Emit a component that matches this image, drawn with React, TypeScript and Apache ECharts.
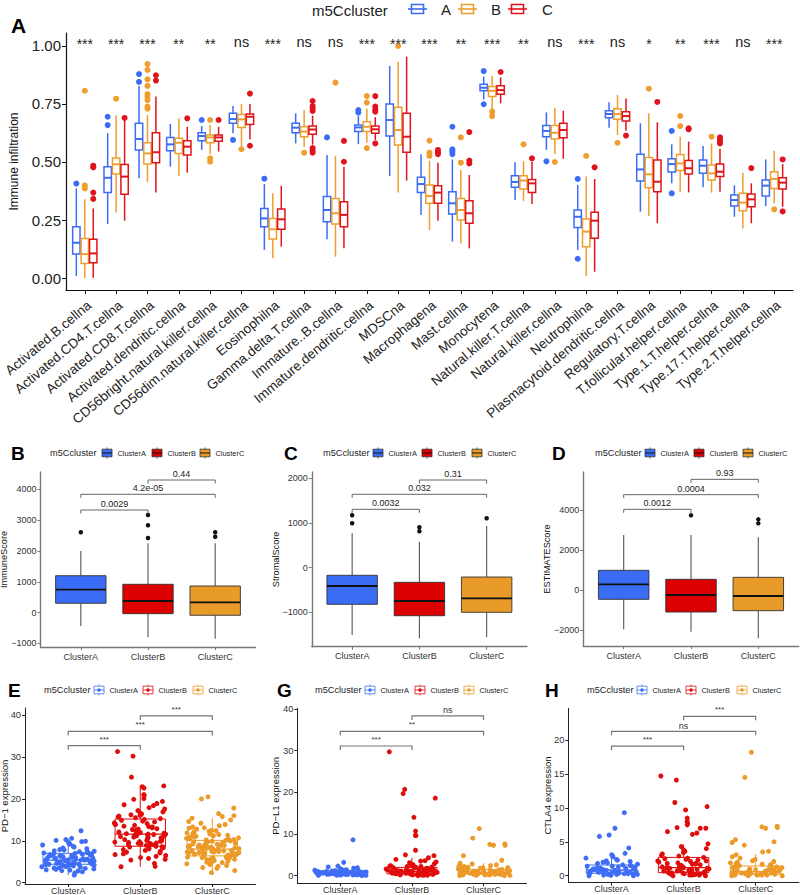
import React, { useEffect, useRef } from 'react';
import * as echarts from 'echarts';

const FONT = '"Liberation Sans", Arial, Helvetica, sans-serif';

// ---------------- Panel A data ----------------
const CELL_TYPES = [
  'Activated.B.cellna', 'Activated.CD4.T.cellna', 'Activated.CD8.T.cellna', 'Activated.dendritic.cellna',
  'CD56bright.natural.killer.cellna', 'CD56dim.natural.killer.cellna', 'Eosinophilna', 'Gamma.delta.T.cellna',
  'Immature..B.cellna', 'Immature.dendritic.cellna', 'MDSCna', 'Macrophagena', 'Mast.cellna', 'Monocytena',
  'Natural.killer.T.cellna', 'Natural.killer.cellna', 'Neutrophilna', 'Plasmacytoid.dendritic.cellna',
  'Regulatory.T.cellna', 'T.follicular.helper.cellna', 'Type.1.T.helper.cellna', 'Type.17.T.helper.cellna',
  'Type.2.T.helper.cellna',
];
const SIGNIF = ['***', '***', '***', '**', '**', 'ns', '***', 'ns', 'ns', '***', '***', '***', '**', '***', '**', 'ns', '***', 'ns', '*', '**', '***', 'ns', '***'];

// [lower whisker, Q1, median, Q3, upper whisker]
const STATS_A = [
  [0.009, 0.103, 0.152, 0.221, 0.386], [0.233, 0.368, 0.432, 0.48, 0.624], [0.43, 0.552, 0.599, 0.667, 0.828],
  [0.48, 0.549, 0.576, 0.606, 0.664], [0.552, 0.592, 0.612, 0.626, 0.655], [0.624, 0.667, 0.685, 0.71, 0.741],
  [0.121, 0.221, 0.257, 0.30, 0.405], [0.58, 0.626, 0.648, 0.667, 0.71], [0.167, 0.243, 0.293, 0.351, 0.53],
  [0.578, 0.631, 0.649, 0.66, 0.698], [0.44, 0.612, 0.681, 0.75, 0.914], [0.272, 0.368, 0.405, 0.434, 0.533],
  [0.157, 0.276, 0.322, 0.372, 0.511], [0.77, 0.807, 0.82, 0.835, 0.868], [0.336, 0.391, 0.414, 0.441, 0.499],
  [0.552, 0.609, 0.634, 0.657, 0.714], [0.121, 0.218, 0.264, 0.293, 0.401], [0.648, 0.691, 0.707, 0.721, 0.757],
  [0.286, 0.418, 0.468, 0.533, 0.667], [0.408, 0.457, 0.491, 0.514, 0.576], [0.391, 0.451, 0.484, 0.509, 0.569],
  [0.264, 0.31, 0.336, 0.358, 0.399], [0.31, 0.353, 0.398, 0.422, 0.511],
];
const OUT_A = [
  [0.407], [0.659, 0.695], [0.845, 0.879], [], [0.681], [0.595], [0.428], [], [0.606], [0.713, 0.724], [], [],
  [0.534, 0.545, 0.555, 0.652], [0.749, 0.892], [], [0.503], [0.083, 0.427], [], [], [0.365, 0.634], [], [], [],
];
const STATS_B = [
  [0.0, 0.063, 0.103, 0.170, 0.339], [0.282, 0.448, 0.49, 0.517, 0.701], [0.415, 0.491, 0.537, 0.583, 0.703],
  [0.441, 0.537, 0.583, 0.602, 0.687], [0.534, 0.583, 0.606, 0.616, 0.66], [0.566, 0.649, 0.684, 0.705, 0.75],
  [0.085, 0.168, 0.21, 0.257, 0.365], [0.566, 0.609, 0.631, 0.652, 0.724], [0.092, 0.233, 0.279, 0.343, 0.527],
  [0.583, 0.631, 0.652, 0.674, 0.731], [0.368, 0.573, 0.638, 0.736, 0.932], [0.207, 0.322, 0.353, 0.401, 0.506],
  [0.149, 0.25, 0.293, 0.343, 0.466], [0.724, 0.782, 0.807, 0.825, 0.871], [0.332, 0.384, 0.42, 0.441, 0.504],
  [0.534, 0.599, 0.626, 0.657, 0.734], [0.009, 0.135, 0.2, 0.254, 0.437], [0.616, 0.684, 0.707, 0.73, 0.789],
  [0.267, 0.389, 0.447, 0.519, 0.71], [0.371, 0.463, 0.494, 0.532, 0.609], [0.368, 0.422, 0.451, 0.487, 0.58],
  [0.213, 0.29, 0.325, 0.365, 0.454], [0.322, 0.386, 0.427, 0.458, 0.549],
];
const OUT_B = [
  [0.386, 0.399, 0.807], [0.773], [0.730, 0.739, 0.767, 0.782, 0.793, 0.828, 0.856, 0.897, 0.922], [],
  [0.501, 0.516, 0.681], [0.555], [], [0.54], [0.842], [0.56, 0.756, 0.784], [1.0], [0.526, 0.54, 0.592],
  [0.497, 0.606], [0.698, 0.717], [0.576], [0.5], [0.526], [0.583], [0.816], [0.655, 0.698], [0.609], [], [0.296],
];
const STATS_C = [
  [0.001, 0.066, 0.106, 0.167, 0.300], [0.247, 0.361, 0.437, 0.489, 0.681], [0.368, 0.497, 0.542, 0.626, 0.782],
  [0.454, 0.53, 0.566, 0.592, 0.652], [0.545, 0.589, 0.606, 0.616, 0.652], [0.598, 0.662, 0.695, 0.707, 0.75],
  [0.135, 0.21, 0.253, 0.297, 0.397], [0.575, 0.62, 0.64, 0.655, 0.70], [0.128, 0.221, 0.272, 0.329, 0.48],
  [0.595, 0.624, 0.641, 0.655, 0.693], [0.42, 0.542, 0.609, 0.71, 0.954], [0.247, 0.322, 0.368, 0.398, 0.497],
  [0.128, 0.236, 0.279, 0.333, 0.444], [0.753, 0.792, 0.81, 0.829, 0.865], [0.319, 0.369, 0.408, 0.425, 0.501],
  [0.514, 0.605, 0.638, 0.667, 0.721], [0.027, 0.171, 0.247, 0.283, 0.427], [0.635, 0.677, 0.698, 0.717, 0.774],
  [0.236, 0.372, 0.415, 0.509, 0.671], [0.369, 0.448, 0.473, 0.506, 0.588], [0.372, 0.437, 0.458, 0.491, 0.557],
  [0.236, 0.307, 0.339, 0.362, 0.408], [0.307, 0.384, 0.411, 0.432, 0.491],
];
const OUT_C = [
  [0.341, 0.368, 0.477, 0.484], [0.690], [0.851, 0.874], [0.688], [0.681], [0.57, 0.795], [],
  [0.54, 0.55, 0.56, 0.72, 0.731, 0.741, 0.763], [0.501, 0.591], [0.58, 0.717, 0.727, 0.739, 0.784], [],
  [0.534, 0.54, 0.552], [0.494, 0.506, 0.629], [0.888], [0.516], [], [0.477], [0.614], [0.759], [0.641, 0.645],
  [0.58, 0.588, 0.598, 0.606], [0.474], [0.287, 0.511],
];

// ---------------- Panels B-D data ----------------
const CLUSTERS = ['ClusterA', 'ClusterB', 'ClusterC'];
const IMMUNE_STATS = [[-432, 305, 747, 1201, 2003], [-799, -32, 380, 922, 2253], [-844, -84, 338, 867, 2253]];
const IMMUNE_OUT = [[2610], [2425, 2838, 3172], [2468, 2610]];
const STROMAL_STATS = [[-1506, -819, -409, -170, 770], [-1580, -1074, -745, -327, 582], [-1557, -998, -685, -208, 933]];
const STROMAL_OUT = [[993, 1172], [814, 904], [1105]];
const ESTIMATE_STATS = [[-1967, -467, 283, 983, 2750], [-2083, -1100, -250, 533, 2750], [-2417, -1033, -300, 633, 2633]];
const ESTIMATE_OUT = [[], [3733], [3333, 3533]];
// [from, to, y, label]
const IMMUNE_P = [[0, 1, 3334, '0.0029'], [0, 2, 3844, '4.2e-05'], [1, 2, 4308, '0.44']];
const STROMAL_P = [[0, 1, 1306, '0.0032'], [0, 2, 1642, '0.032'], [1, 2, 1962, '0.31']];
const ESTIMATE_P = [[0, 1, 4033, '0.0012'], [0, 2, 4767, '0.0004'], [1, 2, 5533, '0.93']];

// ---------------- Panels E, G, H data ----------------
const PD1_STATS = [[1.8, 4.4, 5.4, 7.0, 10.6], [3.8, 8.7, 11.6, 15.2, 23.1], [2.4, 6.4, 8.0, 10.1, 15.4]];
const PD1_A = [12.4, 10.6, 10.3, 10.1, 9.9, 9.8, 9.6, 9.4, 9.2, 9.0, 8.7, 8.5, 8.3, 8.1, 7.9, 7.8, 7.6, 7.5, 7.4, 7.3, 7.2, 7.1, 7.0, 6.9, 6.9, 6.8, 6.7, 6.6, 6.5, 6.4, 6.4, 6.3, 6.2, 6.1, 6.0, 6.0, 5.9, 5.8, 5.8, 5.7, 5.6, 5.6, 5.5, 5.5, 5.4, 5.4, 5.3, 5.3, 5.2, 5.2, 5.1, 5.0, 5.0, 4.9, 4.9, 4.8, 4.8, 4.7, 4.7, 4.6, 4.6, 4.5, 4.5, 4.4, 4.4, 4.3, 4.2, 4.2, 4.1, 4.0, 3.9, 3.9, 3.8, 3.7, 3.6, 3.5, 3.4, 3.3, 3.2, 3.1, 3.0, 2.9, 2.8, 2.6, 2.3, 1.8];
const PD1_B = [31.3, 30.2, 25.2, 23.1, 22.9, 22.6, 21.0, 20.9, 20.1, 19.9, 19.4, 18.9, 18.6, 18.4, 17.9, 17.6, 17.2, 16.9, 16.6, 16.4, 16.1, 15.9, 15.7, 15.5, 15.3, 15.1, 14.9, 14.7, 14.5, 14.3, 14.1, 13.9, 13.7, 13.5, 13.3, 13.1, 12.9, 12.8, 12.6, 12.4, 12.3, 12.1, 12.0, 11.9, 11.8, 11.7, 11.6, 11.6, 11.5, 11.4, 11.3, 11.2, 11.0, 10.9, 10.8, 10.6, 10.5, 10.3, 10.2, 10.0, 9.9, 9.8, 9.6, 9.5, 9.4, 9.3, 9.2, 9.1, 9.0, 8.9, 8.8, 8.7, 8.6, 8.5, 8.3, 8.1, 7.9, 7.7, 7.5, 7.3, 7.1, 6.9, 6.7, 6.5, 6.3, 6.0, 5.8, 5.6, 5.4, 4.6, 3.9, 3.8, 13.4, 12.2, 10.1, 9.7, 9.4, 8.4, 11.1, 14.0, 16.2, 12.7, 10.7];
const PD1_C = [20.5, 20.0, 17.8, 16.5, 16.0, 15.8, 15.4, 15.0, 14.6, 14.2, 13.9, 13.6, 13.3, 13.0, 12.8, 12.5, 12.3, 12.1, 11.9, 11.7, 11.5, 11.3, 11.1, 11.0, 10.8, 10.7, 10.5, 10.4, 10.2, 10.1, 10.0, 9.9, 9.8, 9.6, 9.5, 9.4, 9.3, 9.2, 9.1, 9.0, 8.9, 8.8, 8.7, 8.6, 8.5, 8.4, 8.3, 8.2, 8.1, 8.0, 8.0, 7.9, 7.8, 7.7, 7.6, 7.5, 7.4, 7.3, 7.2, 7.1, 7.0, 6.9, 6.8, 6.7, 6.6, 6.5, 6.4, 6.3, 6.2, 6.1, 6.0, 5.9, 5.8, 5.6, 5.5, 5.3, 5.1, 4.9, 4.7, 4.5, 4.3, 4.1, 3.9, 3.6, 3.4, 2.9, 2.4, 11.6, 10.9, 10.3, 9.7, 9.2, 8.9, 8.6, 8.3, 8.1, 7.9, 7.7, 7.5, 7.3, 7.0, 6.8, 6.6, 6.3, 6.0, 5.7, 12.4, 13.1, 9.0, 8.5, 7.2, 6.9, 10.6, 11.2, 5.2, 4.8];
const PDL1_STATS = [[0, 0.4, 0.7, 1.2, 2.3], [0, 0.45, 1.0, 2.0, 4.3], [0, 0.4, 0.8, 1.5, 3.0]];
const PDL1_A = [8.6, 3.2, 2.3, 2.1, 1.9, 1.8, 1.6, 1.5, 1.4, 1.3, 1.3, 1.2, 1.2, 1.1, 1.1, 1.0, 1.0, 0.9, 0.9, 0.9, 0.8, 0.8, 0.8, 0.7, 0.7, 0.7, 0.7, 0.6, 0.6, 0.6, 0.6, 0.5, 0.5, 0.5, 0.5, 0.4, 0.4, 0.4, 0.4, 0.3, 0.3, 0.3, 0.3, 0.2, 0.2, 0.2, 0.1, 0.1, 0.1, 0.0, 0.9, 0.7, 0.5, 1.0, 0.6, 0.4, 0.8, 1.4, 0.3, 0.2];
const PDL1_B = [29.7, 20.7, 19.7, 18.6, 14.0, 10.7, 9.7, 9.6, 6.1, 5.0, 4.8, 4.3, 3.9, 3.6, 3.5, 3.3, 3.1, 2.9, 2.7, 2.6, 2.5, 2.4, 2.3, 2.2, 2.1, 2.0, 1.9, 1.8, 1.7, 1.6, 1.5, 1.5, 1.4, 1.3, 1.3, 1.2, 1.2, 1.1, 1.1, 1.0, 1.0, 1.0, 0.9, 0.9, 0.9, 0.8, 0.8, 0.8, 0.7, 0.7, 0.7, 0.6, 0.6, 0.6, 0.5, 0.5, 0.5, 0.5, 0.4, 0.4, 0.4, 0.3, 0.3, 0.3, 0.2, 0.2, 0.2, 0.1, 0.1, 0.0, 2.2, 1.8, 1.4, 1.1, 0.9, 0.7, 0.5, 0.3, 1.6, 1.2];
const PDL1_C = [11.3, 9.0, 7.6, 7.5, 7.3, 7.3, 4.8, 3.7, 3.0, 2.8, 2.6, 2.4, 2.2, 2.1, 2.0, 1.9, 1.8, 1.7, 1.6, 1.5, 1.4, 1.4, 1.3, 1.3, 1.2, 1.2, 1.1, 1.1, 1.0, 1.0, 1.0, 0.9, 0.9, 0.9, 0.8, 0.8, 0.8, 0.8, 0.7, 0.7, 0.7, 0.6, 0.6, 0.6, 0.6, 0.5, 0.5, 0.5, 0.5, 0.4, 0.4, 0.4, 0.3, 0.3, 0.3, 0.2, 0.2, 0.2, 0.1, 0.1, 0.0, 0.0, 1.9, 1.5, 1.2, 0.9, 0.7, 0.5, 0.3, 2.3, 1.1, 0.8];
const CTLA4_STATS = [[0, 0.35, 0.84, 1.58, 3.3], [0, 0.45, 1.18, 2.7, 4.6], [0, 0.25, 0.6, 1.43, 3.2]];
const CTLA4_A = [9.3, 7.0, 6.0, 5.8, 4.1, 3.3, 3.1, 2.9, 2.8, 2.6, 2.4, 2.3, 2.2, 2.1, 2.0, 1.9, 1.8, 1.7, 1.6, 1.5, 1.5, 1.4, 1.3, 1.2, 1.2, 1.1, 1.0, 1.0, 0.9, 0.9, 0.8, 0.8, 0.8, 0.7, 0.7, 0.6, 0.6, 0.6, 0.5, 0.5, 0.5, 0.4, 0.4, 0.4, 0.3, 0.3, 0.3, 0.2, 0.2, 0.2, 0.1, 0.1, 0.1, 0.0, 0.0, 1.1, 0.7, 0.4, 0.2, 1.4];
const CTLA4_B = [14.7, 14.1, 10.8, 10.2, 9.7, 8.5, 8.0, 7.7, 7.5, 7.1, 7.0, 7.0, 6.5, 6.3, 6.1, 4.7, 4.3, 4.0, 3.8, 3.6, 3.4, 3.2, 3.0, 2.9, 2.7, 2.6, 2.5, 2.4, 2.3, 2.2, 2.1, 2.0, 1.9, 1.8, 1.8, 1.7, 1.6, 1.5, 1.5, 1.4, 1.3, 1.3, 1.2, 1.2, 1.1, 1.1, 1.0, 1.0, 0.9, 0.9, 0.8, 0.8, 0.7, 0.7, 0.7, 0.6, 0.6, 0.5, 0.5, 0.5, 0.4, 0.4, 0.4, 0.3, 0.3, 0.3, 0.2, 0.2, 0.2, 0.1, 0.1, 0.1, 0.0, 0.0, 2.2, 1.7, 1.2, 0.8, 0.5, 0.3];
const CTLA4_C = [18.2, 14.5, 7.3, 7.2, 7.1, 7.0, 5.3, 5.0, 4.9, 4.5, 3.6, 3.5, 3.1, 2.8, 2.6, 2.4, 2.2, 2.0, 1.9, 1.8, 1.7, 1.6, 1.5, 1.4, 1.3, 1.2, 1.2, 1.1, 1.0, 1.0, 0.9, 0.9, 0.8, 0.8, 0.7, 0.7, 0.6, 0.6, 0.6, 0.5, 0.5, 0.5, 0.4, 0.4, 0.4, 0.4, 0.3, 0.3, 0.3, 0.3, 0.2, 0.2, 0.2, 0.2, 0.1, 0.1, 0.1, 0.1, 0.0, 0.0, 0.0, 1.3, 0.9, 0.6, 0.4, 0.2, 2.1, 1.6];
const PD1_P = [[0, 1, 32.7, '***'], [0, 2, 36.1, '***'], [1, 2, 39.8, '***']];
const PDL1_P = [[0, 1, 31.1, '***'], [0, 2, 34.6, '**'], [1, 2, 38.3, 'ns']];
const CTLA4_P = [[0, 1, 19.1, '***'], [0, 2, 21.3, 'ns'], [1, 2, 23.5, '***']];

// ---------------- styling ----------------
const A_COLORS = ['#3B6CF5', '#EE9E2E', '#E0141C'];
const CL_FILL = ['#3B6CF6', '#DC0000', '#E99B2A'];
const CL_POINT = ['#3F6EF5', '#E00D0D', '#EC9A28'];

const GRIDS = [
  { left: 66, top: 33, width: 727, height: 257 },
  { left: 40.5, top: 472, width: 215, height: 175 },
  { left: 311.8, top: 472, width: 215.2, height: 174.7 },
  { left: 583.3, top: 472, width: 215.4, height: 174 },
  { left: 25, top: 708, width: 230.5, height: 176 },
  { left: 297.3, top: 708.3, width: 229.2, height: 175 },
  { left: 568.3, top: 708.3, width: 230.6, height: 174.4 },
];

const minus = (v: number) => String(v).replace('-', '\u2212');

function xCat(gi: number, names: string[], o: any) {
  const ticks = names.map((_, i) => i);
  const label: any = {
    show: true, customValues: ticks, formatter: (v: number) => names[Math.round(v)] ?? '',
    fontSize: o.fontSize, color: o.color, fontFamily: FONT, margin: o.margin ?? 4,
    rotate: o.rotate ?? 0, hideOverlap: false,
  };
  if (o.rotate) {
    label.align = 'right';
    label.verticalAlign = 'top';
  }
  return {
    type: 'value', gridIndex: gi, min: -0.6, max: names.length - 0.4,
    axisLine: { show: true, onZero: false, lineStyle: { color: o.line, width: o.lw } },
    axisTick: { show: true, customValues: ticks, length: o.tickLen ?? 3.5, lineStyle: { color: o.line, width: 1 } },
    axisLabel: label,
    splitLine: { show: false },
  };
}

function yVal(gi: number, min: number, max: number, ticks: number[], fmt: (v: number) => string, name: string, gap: number, o: any) {
  return {
    type: 'value', gridIndex: gi, min, max,
    axisLine: { show: true, onZero: false, lineStyle: { color: o.line, width: o.lw } },
    axisTick: { show: true, customValues: ticks, length: o.tickLen ?? 3.5, lineStyle: { color: o.line, width: 1 } },
    axisLabel: { show: true, customValues: ticks, formatter: fmt, fontSize: o.fontSize, color: o.color, fontFamily: FONT, margin: o.margin ?? 4 },
    splitLine: { show: false },
    name, nameLocation: 'middle', nameGap: gap, nameRotate: 90, nameMoveOverlap: false,
    nameTextStyle: { fontSize: o.nameSize, color: '#111', fontFamily: FONT },
  };
}

function boxSeries(gi: number, stats: number[][], o: any) {
  return {
    type: 'custom', xAxisIndex: gi, yAxisIndex: gi, z: 2, silent: true,
    data: stats.map((s, i) => [i, ...s]),
    encode: { x: 0, y: [1, 2, 3, 4, 5] },
    renderItem: (params: any, api: any) => {
      const i = api.value(0) as number;
      const x = i + o.offset;
      const pLo = api.coord([x, api.value(1)]);
      const yQ1 = api.coord([x, api.value(2)])[1];
      const yMed = api.coord([x, api.value(3)])[1];
      const yQ3 = api.coord([x, api.value(4)])[1];
      const yHi = api.coord([x, api.value(5)])[1];
      const cx = pLo[0];
      const w = api.size([o.width, 0])[0];
      return {
        type: 'group',
        children: [
          { type: 'line', shape: { x1: cx, y1: yHi, x2: cx, y2: yQ3 }, style: { stroke: o.whisker(i), lineWidth: o.wlw } },
          { type: 'line', shape: { x1: cx, y1: yQ1, x2: cx, y2: pLo[1] }, style: { stroke: o.whisker(i), lineWidth: o.wlw } },
          { type: 'rect', shape: { x: cx - w / 2, y: yQ3, width: w, height: yQ1 - yQ3 }, style: { fill: o.fill(i), stroke: o.stroke(i), lineWidth: o.lw } },
          { type: 'line', shape: { x1: cx - w / 2, y1: yMed, x2: cx + w / 2, y2: yMed }, style: { stroke: o.median(i), lineWidth: o.mlw } },
        ],
      };
    },
  };
}

function outlierPoints(groupOutliers: number[][], offset: number) {
  const pts: number[][] = [];
  groupOutliers.forEach((arr, i) => arr.forEach((v) => pts.push([i + offset, v])));
  return pts;
}

function jit(k: number, g: number) {
  const s = Math.sin((k + 1) * 12.9898 + (g + 1) * 78.233) * 43758.5453;
  return (s - Math.floor(s) - 0.5) * 0.74;
}

function jitterSeries(gi: number, vals: number[], g: number) {
  return {
    type: 'scatter', xAxisIndex: gi, yAxisIndex: gi, z: 3, silent: true,
    symbolSize: 5, itemStyle: { color: CL_POINT[g], opacity: 1 },
    data: vals.map((v, k) => [g + jit(k, g), v]),
  };
}

function bracketSeries(gi: number, brs: any[], o: any) {
  return {
    type: 'custom', xAxisIndex: gi, yAxisIndex: gi, z: 4, silent: true,
    data: brs.map((b) => [b[0], b[1], b[2]]),
    encode: { x: [0, 1], y: 2 },
    renderItem: (params: any, api: any) => {
      const b = brs[params.dataIndex];
      const p1 = api.coord([api.value(0), api.value(2)]);
      const p2 = api.coord([api.value(1), api.value(2)]);
      const star = String(b[3]).indexOf('*') >= 0;
      return {
        type: 'group',
        children: [
          {
            type: 'polyline',
            shape: { points: [[p1[0], p1[1] + o.tip], [p1[0], p1[1]], [p2[0], p2[1]], [p2[0], p2[1] + o.tip]] },
            style: { stroke: o.line, lineWidth: o.lw, fill: 'none' },
          },
          {
            type: 'text', x: (p1[0] + p2[0]) / 2, y: p1[1] - (star ? o.starGap : o.gap),
            style: {
              text: b[3], fill: o.color, fontSize: star ? o.starSize : o.fontSize, fontFamily: FONT,
              align: 'center', verticalAlign: 'bottom', textAlign: 'center', textVerticalAlign: 'bottom',
            },
          },
        ],
      };
    },
  };
}

function txt(x: number, y: number, text: string, size: number, extra: any = {}) {
  return {
    type: 'text', x, y, silent: true,
    style: {
      text, fontSize: size, fontFamily: FONT, fill: '#111',
      align: 'left', verticalAlign: 'middle', textAlign: 'left', textVerticalAlign: 'middle', ...extra,
    },
  };
}

function iconA(x: number, y: number, color: string) {
  return [
    { type: 'line', silent: true, shape: { x1: x, y1: y, x2: x + 19, y2: y }, style: { stroke: color, lineWidth: 1.6 } },
    { type: 'rect', silent: true, shape: { x: x + 3.5, y: y - 4.5, width: 12, height: 9 }, style: { fill: 'none', stroke: color, lineWidth: 1.6 } },
  ];
}
function iconFilled(x: number, y: number, color: string) {
  return [
    { type: 'line', silent: true, shape: { x1: x + 5, y1: y - 5.5, x2: x + 5, y2: y + 5.5 }, style: { stroke: '#333', lineWidth: 0.8 } },
    { type: 'rect', silent: true, shape: { x, y: y - 3.8, width: 10, height: 7.6 }, style: { fill: color, stroke: '#333', lineWidth: 0.8 } },
    { type: 'line', silent: true, shape: { x1: x, y1: y, x2: x + 10, y2: y }, style: { stroke: '#111', lineWidth: 1 } },
  ];
}
function iconHollow(x: number, y: number, color: string) {
  return [
    { type: 'line', silent: true, shape: { x1: x + 5, y1: y - 5.5, x2: x + 5, y2: y + 5.5 }, style: { stroke: color, lineWidth: 0.8 } },
    { type: 'rect', silent: true, shape: { x, y: y - 3.8, width: 10, height: 7.6 }, style: { fill: '#fff', stroke: color, lineWidth: 0.8 } },
    { type: 'line', silent: true, shape: { x1: x, y1: y, x2: x + 10, y2: y }, style: { stroke: color, lineWidth: 0.8 } },
    { type: 'circle', silent: true, shape: { cx: x + 5, cy: y, r: 1.8 }, style: { fill: color } },
  ];
}

function clusterLegend(letterX: number, titleX: number, iconXs: number[], y: number, letter: string, icon: (x: number, y: number, c: string) => any[], colors: string[]) {
  const els: any[] = [
    txt(letterX, y, letter, 19, { fontWeight: 'bold', fill: '#000' }),
    txt(titleX, y, 'm5Ccluster', 9.2, { fill: '#222' }),
  ];
  iconXs.forEach((ix, k) => {
    els.push(...icon(ix, y, colors[k]));
    els.push(txt(ix + 15.5, y, CLUSTERS[k], 7.4, { fill: '#222' }));
  });
  return els;
}

function buildOption() {
  const axA = { line: '#111', lw: 1.2, fontSize: 15, color: '#222', tickLen: 4, nameSize: 12 };
  const axBD = { line: '#777', lw: 1.4, fontSize: 9, color: '#333', tickLen: 3, nameSize: 9.2 };
  const axEH = { line: '#222', lw: 1, fontSize: 9, color: '#333', tickLen: 3, nameSize: 9.5 };

  const xAxis = [
    xCat(0, CELL_TYPES, { ...axA, fontSize: 13.5, rotate: 40, margin: 8 }),
    xCat(1, CLUSTERS, { ...axBD, margin: 5 }),
    xCat(2, CLUSTERS, { ...axBD, margin: 5 }),
    xCat(3, CLUSTERS, { ...axBD, margin: 5 }),
    xCat(4, CLUSTERS, { ...axEH, margin: 2 }),
    xCat(5, CLUSTERS, { ...axEH, margin: 2 }),
    xCat(6, CLUSTERS, { ...axEH, margin: 2 }),
  ];
  const yAxis = [
    yVal(0, -0.0517, 1.056, [0, 0.25, 0.5, 0.75, 1], (v) => v.toFixed(2), 'Immune infiltration', 46, { ...axA, margin: 5 }),
    yVal(1, -1114, 4568, [-1000, 0, 1000, 2000, 3000, 4000], minus, 'ImmuneScore', 32, axBD),
    yVal(2, -1767, 2141, [-1000, 0, 1000, 2000], minus, 'StromalScore', 31.5, axBD),
    yVal(3, -2800, 5900, [-2000, 0, 2000, 4000], minus, 'ESTIMATEScore', 31.5, axBD),
    yVal(4, -0.31, 41.7, [0, 10, 20, 30, 40], minus, 'PD\u22121 expression', 16, { ...axEH, fontSize: 9.3 }),
    yVal(5, -1.82, 40.14, [0, 10, 20, 30, 40], minus, 'PD\u2212L1 expression', 16.5, { ...axEH, fontSize: 9.3 }),
    yVal(6, -1.03, 24.69, [0, 5, 10, 15, 20], minus, 'CTLA4 expression', 16, { ...axEH, fontSize: 9.3 }),
  ];

  const series: any[] = [];
  // Panel A boxes + outliers
  const aStats = [STATS_A, STATS_B, STATS_C];
  const aOut = [OUT_A, OUT_B, OUT_C];
  const offs = [-0.27, 0, 0.27];
  aStats.forEach((st, g) => {
    const c = A_COLORS[g];
    series.push(boxSeries(0, st, {
      offset: offs[g], width: 0.235, fill: () => '#fff', stroke: () => c, whisker: () => c, median: () => c,
      lw: 1.5, wlw: 1.5, mlw: 2,
    }));
  });
  aOut.forEach((oo, g) => {
    series.push({
      type: 'scatter', xAxisIndex: 0, yAxisIndex: 0, z: 3, silent: true, symbolSize: 6,
      itemStyle: { color: A_COLORS[g], opacity: 1 }, data: outlierPoints(oo, offs[g]),
    });
  });
  series.push({
    type: 'custom', xAxisIndex: 0, yAxisIndex: 0, z: 4, silent: true,
    data: SIGNIF.map((_, i) => [i, 1.017]),
    encode: { x: 0, y: 1 },
    renderItem: (params: any, api: any) => {
      const p = api.coord([api.value(0), api.value(1)]);
      const s = SIGNIF[params.dataIndex];
      const star = s.indexOf('*') >= 0;
      return {
        type: 'text', x: p[0], y: p[1] + (star ? 2 : 0),
        style: {
          text: s, fill: '#222', fontSize: star ? 14 : 14.5, fontFamily: FONT,
          align: 'center', verticalAlign: 'middle', textAlign: 'center', textVerticalAlign: 'middle',
        },
      };
    },
  });

  // Panels B-D
  const bd = [
    [IMMUNE_STATS, IMMUNE_OUT, IMMUNE_P],
    [STROMAL_STATS, STROMAL_OUT, STROMAL_P],
    [ESTIMATE_STATS, ESTIMATE_OUT, ESTIMATE_P],
  ];
  bd.forEach(([st, oo, pp]: any, k) => {
    const gi = k + 1;
    series.push(boxSeries(gi, st, {
      offset: 0, width: 0.75, fill: (i: number) => CL_FILL[i], stroke: () => '#333', whisker: () => '#555',
      median: () => '#111', lw: 0.9, wlw: 1.1, mlw: 1.8,
    }));
    series.push({
      type: 'scatter', xAxisIndex: gi, yAxisIndex: gi, z: 3, silent: true, symbolSize: 4.5,
      itemStyle: { color: '#111', opacity: 1 }, data: outlierPoints(oo, 0),
    });
    series.push(bracketSeries(gi, pp, { tip: 3.5, line: '#666', lw: 1, color: '#222', fontSize: 9, starSize: 9, gap: 1.5, starGap: 1.5 }));
  });

  // Panels E, G, H
  const eh = [
    [PD1_STATS, [PD1_A, PD1_B, PD1_C], PD1_P],
    [PDL1_STATS, [PDL1_A, PDL1_B, PDL1_C], PDL1_P],
    [CTLA4_STATS, [CTLA4_A, CTLA4_B, CTLA4_C], CTLA4_P],
  ];
  eh.forEach(([st, pts, pp]: any, k) => {
    const gi = k + 4;
    series.push(boxSeries(gi, st, {
      offset: 0, width: 0.7, fill: () => 'rgba(255,255,255,0)', stroke: (i: number) => CL_POINT[i],
      whisker: (i: number) => CL_POINT[i], median: (i: number) => CL_POINT[i], lw: 1, wlw: 1, mlw: 1.3,
    }));
    pts.forEach((vals: number[], g: number) => series.push(jitterSeries(gi, vals, g)));
    series.push(bracketSeries(gi, pp, { tip: 4, line: '#777', lw: 1.2, color: '#333', fontSize: 9, starSize: 8, gap: 1, starGap: 2.5 }));
  });

  const graphic: any[] = [
    txt(11, 25, 'A', 21, { fontWeight: 'bold', fill: '#000' }),
    txt(312, 10, 'm5Ccluster', 15, { fill: '#222' }),
    ...iconA(408, 9, A_COLORS[0]), txt(441, 9.5, 'A', 15, { fill: '#222' }),
    ...iconA(458, 9, A_COLORS[1]), txt(491, 9.5, 'B', 15, { fill: '#222' }),
    ...iconA(508, 9, A_COLORS[2]), txt(542, 9.5, 'C', 15, { fill: '#222' }),
    ...clusterLegend(11, 50, [102, 152, 200], 453, 'B', iconFilled, CL_FILL),
    ...clusterLegend(284, 323, [373, 422, 472], 453, 'C', iconFilled, CL_FILL),
    ...clusterLegend(552, 595, [645, 694, 743], 453, 'D', iconFilled, CL_FILL),
    ...clusterLegend(8, 44, [94, 143, 193], 690, 'E', iconHollow, CL_POINT),
    ...clusterLegend(277, 315, [365, 415, 464], 690, 'G', iconHollow, CL_POINT),
    ...clusterLegend(545, 587, [637, 686, 737], 690, 'H', iconHollow, CL_POINT),
  ];

  return {
    animation: false,
    backgroundColor: '#ffffff',
    textStyle: { fontFamily: FONT },
    grid: GRIDS.map((g) => ({ ...g, containLabel: false, outerBoundsMode: 'none', show: false })),
    xAxis,
    yAxis,
    series,
    graphic,
  };
}

export default function App() {
  const ref = useRef<HTMLDivElement>(null);
  useEffect(() => {
    if (!ref.current) return;
    const chart = echarts.init(ref.current, null, { renderer: 'svg' });
    chart.setOption(buildOption() as any);
    return () => chart.dispose();
  }, []);
  return (
    <div
      ref={ref}
      style={{ position: 'absolute', left: 0, top: 0, width: 800, height: 895, background: '#fff' }}
    />
  );
}
